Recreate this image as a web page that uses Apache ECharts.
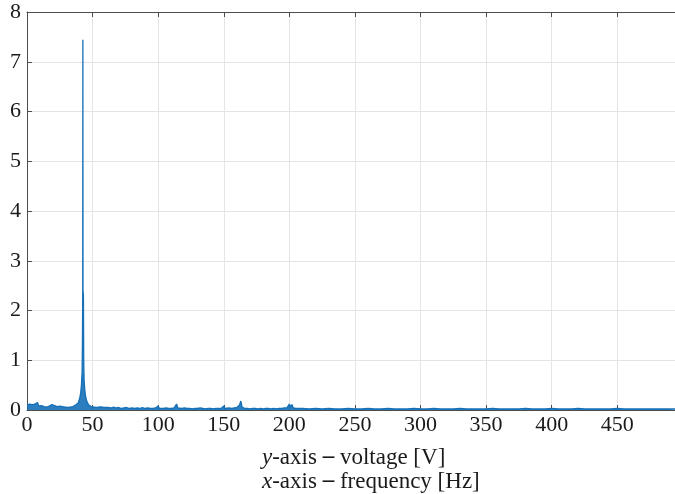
<!DOCTYPE html>
<html>
<head>
<meta charset="utf-8">
<script src="https://cdn.jsdelivr.net/npm/echarts@6/dist/echarts.min.js"></script>
<style>
  html, body { margin: 0; padding: 0; background: #fff; }
  #chart { width: 675px; height: 494px; }
</style>
</head>
<body>
<div id="chart"></div>
<script>
// Amplitude spectrum: frequency [Hz] and voltage [V]
const freq = [
  0,1,2,3,4,5,6,7,8,9,10,11,12,
  13,14,15,16,17,18,19,20,21,22,23,24,25,26,27,28,29,30,31,32,33,34,35,36,37,38,
  39,39.5,40,40.5,41,41.5,42,42.25,42.5,42.6,42.7,43,43.25,43.5,44,44.5,45,45.5,46,47,48,
  49,50,51,52,53,54,55,56,57,58,59,60,
  62,64,66,68,70,72,74,76,78,80,82,84,86,88,90,92,94,96,98,
  100,101,104,106,108,110,112,114,115,
  116,118,120,122,124,126,128,130,132,134,136,138,140,142,144,146,148,
  150,151,152,154,156,158,160,162,163,164,
  166,168,170,172,174,176,178,180,182,184,186,188,190,192,194,196,198,
  200,201,202,203,
  205,210,215,220,225,230,235,240,245,250,255,260,265,270,275,280,285,290,295,300,
  305,310,315,320,325,330,335,340,345,350,355,360,365,370,375,380,385,390,395,400,
  405,410,415,420,425,430,435,440,445,450,455,460,465,470,475,480,485,490,494
];
const volt = [
  0.10,0.13,0.12,0.16,0.11,0.09,0.12,0.10,0.15,0.08,0.11,0.09,0.10,
  0.07,0.09,0.06,0.10,0.08,0.06,0.11,0.07,0.09,0.06,0.07,0.05,0.08,0.06,0.07,0.05,0.06,0.08,0.05,0.07,0.06,0.08,0.07,0.09,0.10,0.12,
  0.14,0.17,0.22,0.28,0.36,0.50,0.75,1.30,2.45,7.44,2.40,2.30,1.00,0.60,0.42,0.30,0.24,0.18,0.14,0.10,0.08,
  0.07,0.09,0.06,0.08,0.05,0.07,0.06,0.05,0.06,0.04,0.05,0.06,
  0.05,0.04,0.06,0.04,0.05,0.03,0.04,0.05,0.03,0.04,0.03,0.04,0.03,0.05,0.03,0.04,0.03,0.03,0.04,
  0.08,0.03,0.03,0.04,0.03,0.03,0.04,0.12,0.04,
  0.03,0.03,0.04,0.03,0.03,0.02,0.03,0.03,0.04,0.03,0.02,0.03,0.03,0.02,0.03,0.03,0.03,
  0.08,0.03,0.03,0.04,0.03,0.04,0.05,0.10,0.18,0.06,
  0.03,0.03,0.02,0.03,0.03,0.02,0.03,0.02,0.03,0.03,0.02,0.03,0.02,0.03,0.03,0.04,0.04,
  0.12,0.06,0.11,0.04,
  0.03,0.03,0.02,0.03,0.02,0.03,0.02,0.02,0.03,0.02,0.02,0.03,0.02,0.02,0.03,0.02,0.02,0.02,0.03,0.02,
  0.02,0.03,0.02,0.02,0.02,0.03,0.02,0.02,0.02,0.02,0.03,0.02,0.02,0.02,0.02,0.03,0.02,0.02,0.02,0.03,
  0.02,0.02,0.02,0.03,0.02,0.02,0.02,0.02,0.02,0.03,0.02,0.02,0.02,0.02,0.02,0.02,0.02,0.02,0.02
];
const xTicks = { min: 0, max: 494, step: 50 };
const yTicks = { min: 0, max: 8, step: 1 };
const captionLines = [
  { italic: 'y', head: '-axis ', rest: ' voltage [V]' },
  { italic: 'x', head: '-axis ', rest: ' frequency [Hz]' }
];

const points = freq.map((f, i) => [f, volt[i]]);
const serif = 'Liberation Serif';
const lineBlue = '#1570b8';
const boxColor = '#4d4d4d';
const textColor = '#1a1a1a';

const chart = echarts.init(document.getElementById('chart'), null, { renderer: 'canvas' });

const baseX = {
  type: 'value',
  min: xTicks.min,
  max: xTicks.max,
  interval: xTicks.step,
  axisLine: { show: true, lineStyle: { color: boxColor, width: 1 } },
  axisTick: { show: true, inside: true, length: 5, lineStyle: { color: boxColor } }
};

chart.setOption({
  animation: false,
  backgroundColor: '#ffffff',
  grid: { left: 27, right: 0, top: 12, bottom: 84, containLabel: false },
  xAxis: [
    Object.assign({}, baseX, {
      position: 'bottom',
      axisLabel: {
        show: true, showMaxLabel: false, fontFamily: serif, fontSize: 22,
        color: textColor, margin: 4
      },
      splitLine: { show: true, lineStyle: { color: '#e4e4e4', width: 1 } }
    }),
    Object.assign({}, baseX, {
      position: 'top',
      axisLabel: { show: false },
      splitLine: { show: false }
    })
  ],
  yAxis: [{
    type: 'value',
    min: yTicks.min,
    max: yTicks.max,
    interval: yTicks.step,
    axisLine: { show: true, lineStyle: { color: boxColor, width: 1 } },
    axisTick: { show: true, inside: true, length: 5, lineStyle: { color: boxColor } },
    axisLabel: { fontFamily: serif, fontSize: 22, color: textColor, margin: 6, padding: [5, 0, 0, 0] },
    splitLine: { show: true, lineStyle: { color: '#e4e4e4', width: 1 } }
  }],
  series: [{
    type: 'line',
    data: points,
    showSymbol: false,
    sampling: null,
    lineStyle: { color: lineBlue, width: 1.3 },
    areaStyle: { color: lineBlue, opacity: 0.9 },
    z: 3
  }],
  graphic: captionLines.map((c, i) => ({
    type: 'text',
    left: 262,
    top: 446 + i * 24,
    style: {
      text: '{it|' + c.italic + '}{n|' + c.head + '}{d|\u2013}{n|' + c.rest + '}',
      rich: {
        it: { fontFamily: serif, fontStyle: 'italic', fontSize: 23, fill: textColor },
        n: { fontFamily: serif, fontSize: 23, fill: textColor },
        d: { fontFamily: serif, fontWeight: 'bold', fontSize: 23, fill: textColor }
      }
    }
  }))
});
</script>
</body>
</html>
